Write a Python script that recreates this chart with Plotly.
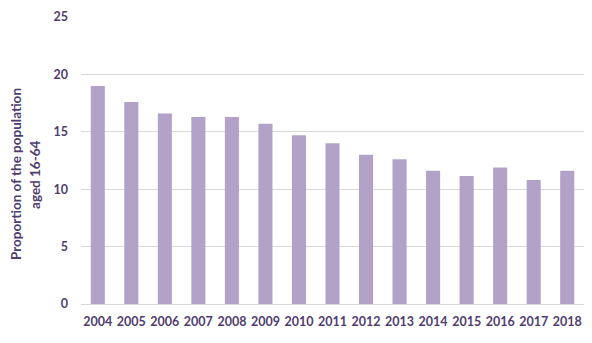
import plotly.graph_objects as go

years = ["2004", "2005", "2006", "2007", "2008", "2009", "2010", "2011",
         "2012", "2013", "2014", "2015", "2016", "2017", "2018"]
values = [19.0, 17.6, 16.6, 16.3, 16.3, 15.7, 14.7, 14.0,
          13.0, 12.6, 11.6, 11.15, 11.9, 10.8, 11.6]
y_ticks = [0, 5, 10, 15, 20, 25]
y_title_lines = ["Proportion of the population", "aged 16-64"]

text_color = "#4f3d6e"
bar_color = "#b3a2c7"
grid_color = "#d9d9d9"
font_family = "Lato, 'Open Sans', sans-serif"

fig = go.Figure(go.Bar(x=years, y=values, marker=dict(color=bar_color, line=dict(width=0))))

fig.update_layout(
    width=592, height=343,
    margin=dict(l=81, r=8, t=17, b=39),
    plot_bgcolor="white", paper_bgcolor="white",
    bargap=0.58,
    showlegend=False,
    font=dict(family=font_family, color=text_color, size=12),
)
fig.update_xaxes(
    type="category",
    showline=True, linecolor=grid_color, linewidth=1,
    showgrid=False,
    ticks="", ticklabelstandoff=6,
    tickfont=dict(family=font_family, size=12.5, color=text_color, weight="bold"),
)
fig.update_yaxes(
    range=[0, 25], tickvals=y_ticks,
    showgrid=True, gridcolor=grid_color, gridwidth=1,
    zeroline=False, showline=False,
    ticks="", ticklabelstandoff=12,
    tickfont=dict(family=font_family, size=12.5, color=text_color, weight="bold"),
)
for line, xpos in zip(y_title_lines, [-0.129, -0.0915]):
    fig.add_annotation(
        text=line, textangle=-90, showarrow=False,
        xref="paper", yref="paper", x=xpos, y=0.453, xanchor="center", yanchor="middle",
        font=dict(family=font_family, size=13.5, color=text_color, weight="bold"),
    )
fig.write_html("out.html")
